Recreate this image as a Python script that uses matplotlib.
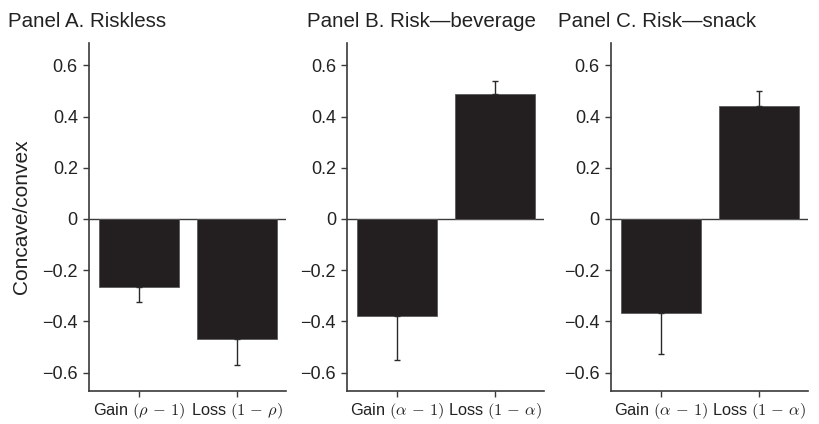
import numpy as np
import matplotlib
matplotlib.use("Agg")
import matplotlib.pyplot as plt
from matplotlib.ticker import FuncFormatter

plt.rcParams['font.family'] = ['Liberation Sans', 'DejaVu Sans']
plt.rcParams['mathtext.fontset'] = 'cm'

# -----------------------------
# Estimated curvature per panel (mean and one-sided SE)
# -----------------------------
titles = ["Panel A. Riskless", "Panel B. Risk\u2014beverage", "Panel C. Risk\u2014snack"]
tick_labels = [
    [r"Gain $(\rho\,-\,1)$", r"Loss $(1\,-\,\rho)$"],
    [r"Gain $(\alpha\,-\,1)$", r"Loss $(1\,-\,\alpha)$"],
    [r"Gain $(\alpha\,-\,1)$", r"Loss $(1\,-\,\alpha)$"],
]
riskless_vals = [-0.265, -0.47]
riskless_err = [0.06, 0.10]
beverage_vals = [-0.38, 0.487]
beverage_err = [0.172, 0.05]
snack_vals = [-0.368, 0.443]
snack_err = [0.16, 0.058]

values = [riskless_vals, beverage_vals, snack_vals]
errors = [riskless_err, beverage_err, snack_err]

bar_color = "#231f20"
spine_color = "#3a3a3a"

fig = plt.figure(figsize=(8.2, 4.24), dpi=100)
lefts = [0.1085, 0.4232, 0.745]
title_x = [0.0098, 0.3745, 0.6805]

def fmt(v, pos):
    if abs(v) < 1e-9:
        return "0"
    return f"{v:.1f}".replace("-", "\u2212")

for i in range(3):
    ax = fig.add_axes([lefts[i], 0.0778, 0.240, 0.821])
    x = np.arange(2)
    vals = np.array(values[i])
    errs = np.array(errors[i])
    ax.bar(x, vals, width=0.82, color=bar_color, edgecolor="#5a5a5a", linewidth=0.6, zorder=2)
    # error bars extend away from zero only
    lower = np.where(vals < 0, errs, 0)
    upper = np.where(vals > 0, errs, 0)
    ax.errorbar(x, vals, yerr=[lower, upper], fmt="none", ecolor="#2a2a2a",
                elinewidth=1.0, capsize=2, capthick=1.0, zorder=3)
    ax.axhline(0, color=spine_color, linewidth=1.0, zorder=1)

    ax.set_xlim(-0.51, 1.5)
    ax.set_ylim(-0.672, 0.6875)
    ax.set_yticks([-0.6, -0.4, -0.2, 0, 0.2, 0.4, 0.6])
    ax.yaxis.set_major_formatter(FuncFormatter(fmt))
    ax.set_xticks(x)
    ax.set_xticklabels(tick_labels[i], fontsize=11.8)
    ax.tick_params(axis='y', labelsize=13, length=4, width=1.0, color=spine_color,
                   pad=4, labelcolor="#222222")
    ax.tick_params(axis='x', length=4, width=1.0, color=spine_color, pad=3,
                   labelcolor="#222222")

    for side in ("top", "right"):
        ax.spines[side].set_visible(False)
    for side in ("left", "bottom"):
        ax.spines[side].set_color(spine_color)
        ax.spines[side].set_linewidth(1.2)

    if i == 0:
        ax.set_ylabel("Concave/convex", fontsize=15, labelpad=8, color="#222222")

    fig.text(title_x[i], 0.95, titles[i], fontsize=14.8, va="center", ha="left",
             color="#222222")

fig.savefig("out.png", dpi=100)
